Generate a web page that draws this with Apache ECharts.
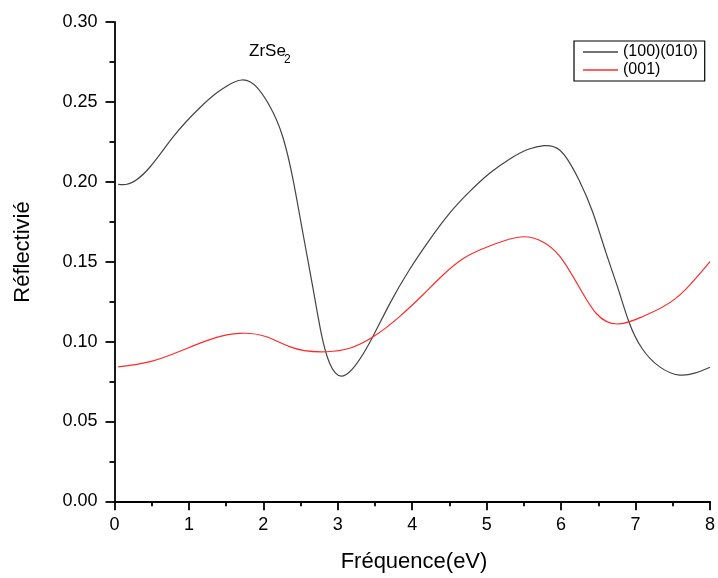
<!DOCTYPE html>
<html>
<head>
<meta charset="utf-8">
<script src="https://cdn.jsdelivr.net/npm/echarts@6/dist/echarts.min.js"></script>
<style>
  html, body { margin: 0; padding: 0; background: #fff; }
  #chart { width: 718px; height: 578px; }
</style>
</head>
<body>
<div id="chart"></div>
<script>
// Reflectivity of ZrSe2 versus photon energy, two polarisation directions
const energy100 = [0.05, 0.15, 0.48, 0.79, 1.15, 1.37, 1.51, 1.71, 1.82, 2.09, 2.26, 2.40, 2.53, 2.67, 2.78, 2.89, 3.06, 3.16, 3.47, 3.70, 3.96, 4.23, 4.50, 4.77, 5.04, 5.30, 5.57, 5.77, 5.98, 6.24, 6.42, 6.60, 6.78, 6.91, 7.09, 7.32, 7.59, 8.00];
const refl100   = [0.1984, 0.1983, 0.2094, 0.2282, 0.2465, 0.2555, 0.2600, 0.2637, 0.2626, 0.2470, 0.2282, 0.2011, 0.1681, 0.1325, 0.1045, 0.0864, 0.0784, 0.0811, 0.1030, 0.1239, 0.1448, 0.1635, 0.1802, 0.1938, 0.2053, 0.2140, 0.2205, 0.2226, 0.2199, 0.2011, 0.1815, 0.1560, 0.1310, 0.1124, 0.0955, 0.0843, 0.0790, 0.0839];

const energy001 = [0.05, 0.48, 0.92, 1.33, 1.68, 2.04, 2.35, 2.85, 3.16, 3.47, 3.83, 4.14, 4.41, 4.68, 5.04, 5.30, 5.50, 5.75, 5.98, 6.24, 6.47, 6.78, 7.09, 7.54, 7.68, 8.00];
const refl001   = [0.0841, 0.0874, 0.0947, 0.1020, 0.1051, 0.1030, 0.0968, 0.0936, 0.0958, 0.1028, 0.1156, 0.1291, 0.1415, 0.1518, 0.1598, 0.1640, 0.1656, 0.1625, 0.1535, 0.1343, 0.1177, 0.1110, 0.1155, 0.1270, 0.1330, 0.1500];

const seriesNames = ['(100)(010)', '(001)'];
const xTitle = 'Fréquence(eV)';
const yTitle = 'Réflectivié';
const compound = 'ZrSe';
const compoundIndex = '2';

const pairs = (xs, ys) => xs.map((x, i) => [x, ys[i]]);

// Natural cubic spline through pixel points, emitted as Bezier segments
function splinePath(p) {
  const n = p.length;
  const h = [];
  for (let i = 0; i < n - 1; i++) h[i] = p[i + 1][0] - p[i][0];
  // tridiagonal system for second derivatives (M0 = Mn-1 = 0)
  const a = new Array(n).fill(0), b = new Array(n).fill(1),
        c = new Array(n).fill(0), r = new Array(n).fill(0);
  for (let i = 1; i < n - 1; i++) {
    a[i] = h[i - 1];
    b[i] = 2 * (h[i - 1] + h[i]);
    c[i] = h[i];
    r[i] = 6 * ((p[i + 1][1] - p[i][1]) / h[i] - (p[i][1] - p[i - 1][1]) / h[i - 1]);
  }
  for (let i = 1; i < n; i++) {
    const w = a[i] / b[i - 1];
    b[i] -= w * c[i - 1];
    r[i] -= w * r[i - 1];
  }
  const M = new Array(n);
  M[n - 1] = r[n - 1] / b[n - 1];
  for (let i = n - 2; i >= 0; i--) M[i] = (r[i] - c[i] * M[i + 1]) / b[i];

  let s = 'M' + p[0][0] + ' ' + p[0][1];
  for (let i = 0; i < n - 1; i++) {
    const hi = h[i], sec = (p[i + 1][1] - p[i][1]) / hi;
    const s0 = sec - hi * (2 * M[i] + M[i + 1]) / 6;
    const s1 = sec + hi * (M[i] + 2 * M[i + 1]) / 6;
    const t = hi / 3;
    s += ' C' + (p[i][0] + t) + ' ' + (p[i][1] + s0 * t) + ' ' +
      (p[i + 1][0] - t) + ' ' + (p[i + 1][1] - s1 * t) + ' ' +
      p[i + 1][0] + ' ' + p[i + 1][1];
  }
  return s;
}

function curveSeries(name, xs, ys, color) {
  return {
    name, type: 'custom', data: pairs(xs, ys),
    itemStyle: { color },
    renderItem: (params, api) => {
      if (params.dataIndex !== 0) return null;
      const pts = xs.map((x, i) => api.coord([x, ys[i]]));
      return {
        type: 'path',
        shape: { pathData: splinePath(pts) },
        style: { fill: 'none', stroke: color, lineWidth: 1.2 },
        silent: true
      };
    }
  };
}

const FONT = '"Liberation Sans", Arial, sans-serif';
const axisCommon = {
  axisLine: { show: true, onZero: false, lineStyle: { color: '#000', width: 1.8 } },
  axisTick: { show: true, inside: false, length: 9, lineStyle: { color: '#000', width: 1.8 } },
  minorTick: { show: true, splitNumber: 2, length: 5, lineStyle: { color: '#000', width: 1.8 } },
  splitLine: { show: false },
  minorSplitLine: { show: false }
};

const chart = echarts.init(document.getElementById('chart'), null, { renderer: 'canvas' });
chart.setOption({
  animation: false,
  backgroundColor: '#fff',
  grid: { left: 114.5, right: 7, top: 22, bottom: 76.7, containLabel: false },
  xAxis: Object.assign({
    type: 'value', min: 0, max: 8, interval: 1,
    axisLabel: { color: '#000', fontSize: 18, fontFamily: FONT, margin: 15 }
  }, axisCommon),
  yAxis: Object.assign({
    type: 'value', min: 0, max: 0.30, interval: 0.05,
    axisLabel: { color: '#000', fontSize: 18, fontFamily: FONT, margin: 17,
      formatter: v => v.toFixed(2) }
  }, axisCommon),
  legend: {
    orient: 'vertical', left: 574, top: 41,
    padding: [3, 7, 3, 9],
    borderColor: '#000', borderWidth: 1.2,
    itemWidth: 35, itemHeight: 1.5, itemGap: 2,
    icon: 'rect',
    textStyle: { color: '#000', fontSize: 16, fontFamily: FONT, padding: [0, 0, 0, 0] },
    data: seriesNames
  },
  series: [
    curveSeries(seriesNames[0], energy100, refl100, '#444'),
    curveSeries(seriesNames[1], energy001, refl001, '#ff2b2b')
  ],
  graphic: [
    { type: 'text', left: 249, top: 43,
      style: { text: compound, fill: '#000', font: '17px ' + FONT } },
    { type: 'text', left: 284, top: 54,
      style: { text: compoundIndex, fill: '#000', font: '12px ' + FONT } },
    { type: 'text', x: 414, y: 562,
      style: { text: xTitle, fill: '#000', font: '22px ' + FONT, align: 'center', verticalAlign: 'middle' } },
    { type: 'text', x: 23, y: 252, rotation: Math.PI / 2,
      style: { text: yTitle, fill: '#000', font: '22px ' + FONT, align: 'center', verticalAlign: 'middle' } }
  ]
});
</script>
</body>
</html>
